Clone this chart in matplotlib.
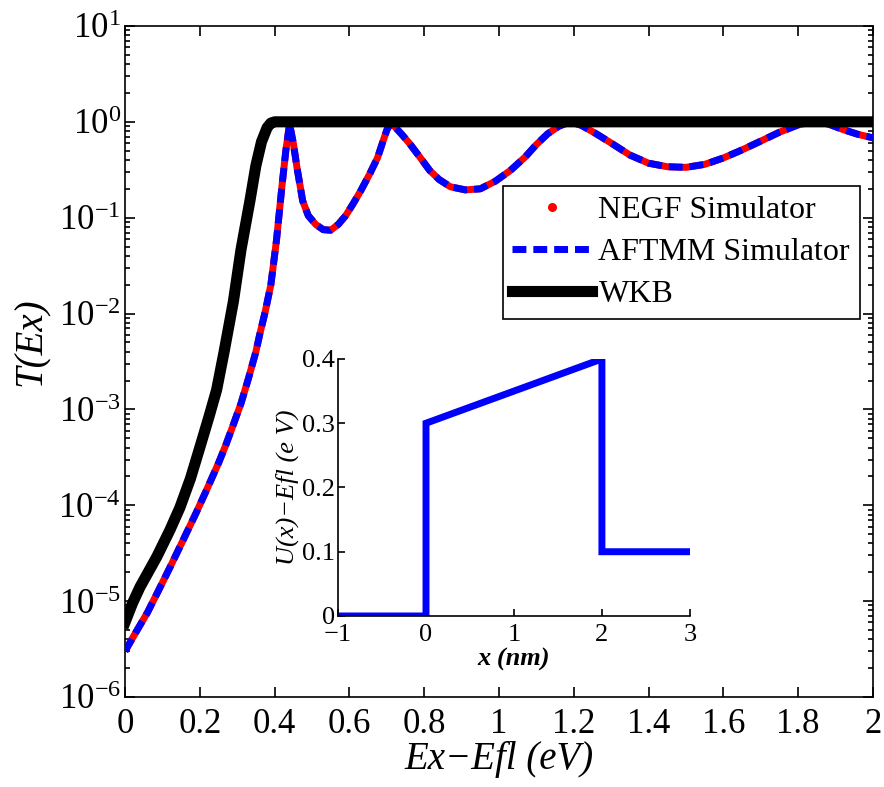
import matplotlib
matplotlib.use("Agg")
import matplotlib.pyplot as plt
from matplotlib.lines import Line2D
from matplotlib.ticker import FixedLocator, LogLocator, NullFormatter, LogFormatterMathtext

plt.rcParams['font.family'] = ['Liberation Serif', 'DejaVu Serif']
plt.rcParams['mathtext.fontset'] = 'custom'
plt.rcParams['mathtext.rm'] = 'Liberation Serif'
plt.rcParams['mathtext.it'] = 'Liberation Serif:italic'

# ---- data ----
negf_E = [0.0, 0.03, 0.06, 0.09, 0.12, 0.155, 0.19, 0.22, 0.25, 0.27, 0.29, 0.31,
          0.33, 0.35, 0.36, 0.375, 0.39, 0.405, 0.42, 0.43, 0.44, 0.45, 0.46, 0.475,
          0.49, 0.51, 0.53, 0.55, 0.57, 0.59, 0.61, 0.63, 0.655, 0.675, 0.69, 0.70,
          0.71, 0.72, 0.74, 0.76, 0.79, 0.815, 0.84, 0.87, 0.91, 0.95, 0.99, 1.03,
          1.07, 1.10, 1.13, 1.16, 1.19, 1.22, 1.26, 1.30, 1.35, 1.40, 1.45, 1.50,
          1.55, 1.60, 1.65, 1.70, 1.75, 1.80, 1.84, 1.88, 1.92, 1.96, 2.0]
negf_T = [3.0e-6, 4.8e-6, 7.6e-6, 1.3e-5, 2.24e-5, 4.3e-5, 8.3e-5, 1.5e-4, 2.75e-4,
          4.3e-4, 7.0e-4, 1.15e-3, 2.1e-3, 4.0e-3, 6.0e-3, 1.05e-2, 2.0e-2, 5.8e-2,
          0.22, 0.5, 0.95, 0.6, 0.33, 0.15, 0.105, 0.085, 0.075, 0.074, 0.085, 0.105,
          0.14, 0.19, 0.29, 0.42, 0.63, 0.82, 0.97, 0.9, 0.74, 0.6, 0.42, 0.31, 0.25,
          0.21, 0.195, 0.2, 0.24, 0.31, 0.43, 0.58, 0.75, 0.9, 1.0, 0.92, 0.75, 0.6,
          0.45, 0.37, 0.34, 0.335, 0.36, 0.42, 0.51, 0.63, 0.78, 0.93, 1.0, 0.95,
          0.83, 0.74, 0.68]
aftmm_E = negf_E
aftmm_T = negf_T
wkb_E = [0.0, 0.02, 0.04, 0.085, 0.12, 0.147, 0.175, 0.20, 0.225, 0.245, 0.265, 0.29,
         0.31, 0.334, 0.35, 0.365, 0.38, 0.39, 0.40, 2.0]
wkb_T = [6.0e-6, 9.5e-6, 1.4e-5, 2.9e-5, 5.5e-5, 9.5e-5, 1.9e-4, 4.0e-4, 8.5e-4,
         1.6e-3, 4.0e-3, 1.35e-2, 4.6e-2, 0.15, 0.35, 0.62, 0.87, 0.97, 1.0, 1.0]

pot_x = [-1, 0, 0, 2, 2, 3]
pot_U = [0, 0, 0.3, 0.4, 0.1, 0.1]

main_xticks = [0, 0.2, 0.4, 0.6, 0.8, 1.0, 1.2, 1.4, 1.6, 1.8, 2.0]
main_xticklabels = ['0', '0.2', '0.4', '0.6', '0.8', '1', '1.2', '1.4', '1.6', '1.8', '2']
main_yticks = [1e-6, 1e-5, 1e-4, 1e-3, 1e-2, 1e-1, 1e0, 1e1]
inset_xticks = [-1, 0, 1, 2, 3]
inset_xticklabels = ['\u22121', '0', '1', '2', '3']
inset_yticks = [0, 0.1, 0.2, 0.3, 0.4]
inset_yticklabels = ['0', '0.1', '0.2', '0.3', '0.4']

legend_labels = ['NEGF Simulator', 'AFTMM Simulator', 'WKB']

# ---- figure ----
fig = plt.figure(figsize=(8.84, 7.87), dpi=100)
ax = fig.add_axes([0.1414, 0.1144, 0.8462, 0.8526])

ax.plot(negf_E, negf_T, color='red', lw=5, solid_capstyle='butt', zorder=2)
ax.plot(aftmm_E, aftmm_T, color='blue', lw=5, dashes=(2, 1), zorder=3)
ax.plot(wkb_E, wkb_T, color='black', lw=8, solid_joinstyle='round', zorder=4)

ax.set_yscale('log')
ax.set_xlim(0, 2)
ax.set_ylim(1e-6, 1e1)
ax.set_xticks(main_xticks)
ax.set_xticklabels(main_xticklabels)
ax.yaxis.set_major_locator(FixedLocator(main_yticks))
ax.yaxis.set_major_formatter(LogFormatterMathtext())
ax.yaxis.set_minor_locator(LogLocator(base=10, subs=range(2, 10), numticks=20))
ax.yaxis.set_minor_formatter(NullFormatter())
ax.tick_params(which='both', direction='in', top=True, right=True, width=1.2)
ax.tick_params(which='major', length=7, labelsize=25)
ax.tick_params(which='minor', length=3.5)
ax.tick_params(axis='x', pad=8)
ax.tick_params(axis='y', pad=3)
for s in ax.spines.values():
    s.set_linewidth(1.2)

ax.set_xlabel('Ex\u2212Efl (eV)', fontsize=28, style='italic', labelpad=0)
ax.set_ylabel('T(Ex)', fontsize=28, style='italic')
ax.yaxis.set_label_coords(-0.1, 0.53)

handles = [Line2D([], [], color='red', marker='.', ls='none', markersize=11),
           Line2D([], [], color='blue', lw=5, dashes=(2, 1)),
           Line2D([], [], color='black', lw=8)]
leg = ax.legend(handles, legend_labels, loc='upper right', bbox_to_anchor=(0.982, 0.7615),
                borderaxespad=0, fontsize=23, handlelength=2.5, labelspacing=0.4,
                handletextpad=0.2, borderpad=0.3, fancybox=False, framealpha=1)
leg.get_frame().set_edgecolor('black')
leg.get_frame().set_linewidth(1.2)

# ---- inset ----
axi = fig.add_axes([0.3824, 0.2173, 0.398, 0.3266])
axi.plot(pot_x, pot_U, color='blue', lw=5, solid_joinstyle='miter')
axi.set_xlim(-1, 3)
axi.set_ylim(0, 0.4)
axi.set_xticks(inset_xticks)
axi.set_xticklabels(inset_xticklabels)
axi.set_yticks(inset_yticks)
axi.set_yticklabels(inset_yticklabels)
axi.spines['top'].set_visible(False)
axi.spines['right'].set_visible(False)
for s in ('left', 'bottom'):
    axi.spines[s].set_linewidth(1.2)
axi.tick_params(direction='in', length=5, width=1.2, labelsize=19)
axi.tick_params(axis='y', pad=2)
axi.tick_params(axis='x', pad=6)
axi.set_xlabel('x (nm)', fontsize=19, style='italic', fontweight='bold', labelpad=1)
axi.set_ylabel('U(x)\u2212Efl (e V)', fontsize=19, style='italic', labelpad=2)

fig.savefig('out.png', dpi=100)
